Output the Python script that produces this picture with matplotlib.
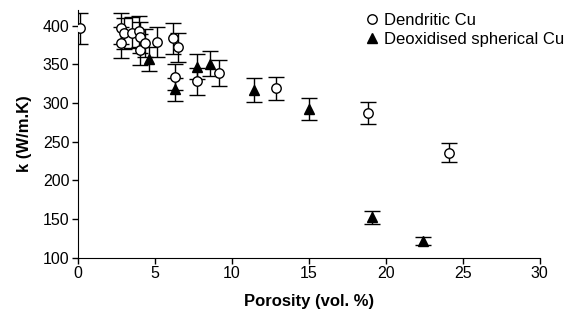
import matplotlib
matplotlib.use("Agg")
import matplotlib.pyplot as plt

plt.rcParams['font.family'] = ['Liberation Sans', 'DejaVu Sans']

# Dendritic Cu (open circles)
dend_x = [0.15, 2.8, 2.8, 3.0, 3.5, 3.97, 4.04, 4.04, 4.4, 5.14, 6.2, 6.5, 6.35, 7.78, 9.16, 12.9, 18.85, 24.1]
dend_y = [397, 397, 378, 390, 391, 393, 385, 369, 378, 379, 384, 372, 334, 328, 339, 319, 287, 236]
dend_err = [20, 20, 20, 20, 20, 20, 20, 20, 18, 19, 20, 19, 17, 17, 17, 15, 14, 12]

# Deoxidised spherical Cu (filled triangles)
deox_x = [4.64, 6.3, 7.78, 8.58, 11.45, 15.0, 19.1, 22.45]
deox_y = [357, 318, 347, 351, 317, 292, 152, 122]
deox_err = [15, 15, 16, 16, 15, 14, 9, 5]

fig = plt.figure(figsize=(5.73, 3.16), dpi=100)
ax = fig.add_axes([0.1356, 0.1845, 0.806, 0.783])

ax.errorbar(dend_x, dend_y, yerr=dend_err, fmt='o', mfc='white', mec='black',
            mew=1.0, ms=6.8, ecolor='black', elinewidth=1.0, capsize=5.5, capthick=1.0,
            label='Dendritic Cu', zorder=3)
ax.errorbar(deox_x, deox_y, yerr=deox_err, fmt='^', mfc='black', mec='black',
            ms=6.8, ecolor='black', elinewidth=1.0, capsize=5.5, capthick=1.0,
            label='Deoxidised spherical Cu', zorder=3)

ax.set_xlim(0, 30)
ax.set_ylim(100, 420)
ax.set_xticks([0, 5, 10, 15, 20, 25, 30])
ax.set_yticks([100, 150, 200, 250, 300, 350, 400])
ax.spines['top'].set_visible(False)
ax.spines['right'].set_visible(False)
ax.tick_params(direction='out', length=4, width=1, labelsize=11.5, pad=2)
ax.set_xlabel('Porosity (vol. %)', fontsize=12, fontweight='bold', labelpad=9)
ax.set_ylabel('k (W/m.K)', fontsize=12, fontweight='bold', labelpad=8)

handles, labels = ax.get_legend_handles_labels()
handles = [h[0] for h in handles]
ax.legend(handles, labels, loc='upper right', bbox_to_anchor=(1.075, 1.03), frameon=False,
          fontsize=12, handletextpad=0.3, handlelength=0.8, borderaxespad=0.2, labelspacing=0.25)

fig.savefig('out.png', dpi=100)
